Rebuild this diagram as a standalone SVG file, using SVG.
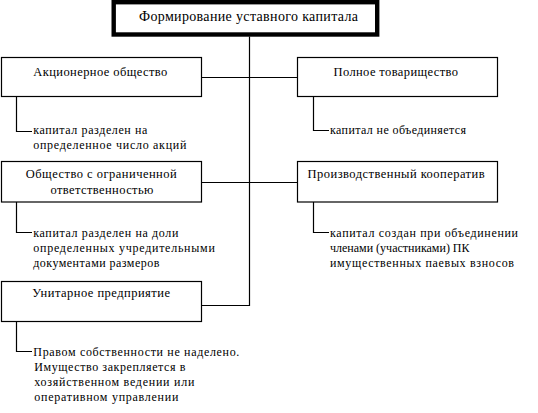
<svg xmlns="http://www.w3.org/2000/svg" width="538" height="413" viewBox="0 0 538 413">
<style>
.box{fill:#fff;stroke:#000;stroke-width:1.2}
.title{fill:#fff;stroke:#000;stroke-width:4.4}
.ln{fill:none;stroke:#000;stroke-width:1.2}
text{font-family:"Liberation Serif","DejaVu Serif","Times New Roman",serif;fill:#000}
.t1{font-size:14px}
.t2{font-size:12.5px}
.t3{font-size:12px}
</style>
<rect width="538" height="413" fill="#fff"/>
<g id="connectors">
<path class="ln" d="M249.5 36.5V305.5H201.5"/>
<path class="ln" d="M201.5 77.5H297.5"/>
<path class="ln" d="M201.5 182.5H297.5"/>
<path class="ln" d="M16.5 96.5V131.5H32"/>
<path class="ln" d="M313.5 96.5V130.5H329"/>
<path class="ln" d="M16.5 202V232.5H32"/>
<path class="ln" d="M313.5 202V232.5H329"/>
<path class="ln" d="M16.5 321.5V351.5H32"/>
</g>
<g id="title">
<rect class="title" x="113.7" y="2.2" width="263.5" height="32.3"/>
<text class="t1" x="139" y="21" textLength="219" lengthAdjust="spacing">Формирование уставного капитала</text>
</g>
<g id="ao">
<rect class="box" x="1.5" y="57.5" width="200" height="39"/>
<text class="t2" x="33.3" y="76" textLength="134" lengthAdjust="spacing">Акционерное общество</text>
</g>
<g id="ao-note">
<text class="t3" x="33.3" y="134" textLength="114" lengthAdjust="spacing">капитал разделен на</text>
<text class="t3" x="33.3" y="148.5" textLength="153" lengthAdjust="spacing">определенное число акций</text>
</g>
<g id="pt">
<rect class="box" x="297.5" y="57.5" width="200" height="39"/>
<text class="t2" x="333.5" y="75.5" textLength="124.5" lengthAdjust="spacing">Полное товарищество</text>
</g>
<g id="pt-note">
<text class="t3" x="330" y="134" textLength="136" lengthAdjust="spacing">капитал не объединяется</text>
</g>
<g id="ooo">
<rect class="box" x="1.5" y="161.5" width="200" height="40.5"/>
<text class="t2" x="25.7" y="177.5" textLength="151" lengthAdjust="spacing">Общество с ограниченной</text>
<text class="t2" x="50.4" y="194" textLength="103" lengthAdjust="spacing">ответственностью</text>
</g>
<g id="ooo-note">
<text class="t3" x="33.3" y="236.5" textLength="145" lengthAdjust="spacing">капитал разделен на доли</text>
<text class="t3" x="33.3" y="251.5" textLength="181.5" lengthAdjust="spacing">определенных учредительными</text>
<text class="t3" x="33.3" y="266.5" textLength="126" lengthAdjust="spacing">документами размеров</text>
</g>
<g id="pk">
<rect class="box" x="297.5" y="161.5" width="200" height="40.5"/>
<text class="t2" x="307.6" y="177.5" textLength="177" lengthAdjust="spacing">Производственный кооператив</text>
</g>
<g id="pk-note">
<text class="t3" x="330" y="236.5" textLength="188" lengthAdjust="spacing">капитал создан при объединении</text>
<text class="t3" x="330" y="251.5">членами (участниками) ПК</text>
<text class="t3" x="330" y="266.5" textLength="184" lengthAdjust="spacing">имущественных паевых взносов</text>
</g>
<g id="up">
<rect class="box" x="1.5" y="281.5" width="200" height="40"/>
<text class="t2" x="32.3" y="297.3" textLength="137.7" lengthAdjust="spacing">Унитарное предприятие</text>
</g>
<g id="up-note">
<text class="t3" x="33.3" y="356" textLength="206" lengthAdjust="spacing">Правом собственности не наделено.</text>
<text class="t3" x="34.3" y="371" textLength="151" lengthAdjust="spacing">Имущество закрепляется в</text>
<text class="t3" x="34.3" y="386" textLength="160" lengthAdjust="spacing">хозяйственном ведении или</text>
<text class="t3" x="34.3" y="401" textLength="144" lengthAdjust="spacing">оперативном управлении</text>
</g>
</svg>
